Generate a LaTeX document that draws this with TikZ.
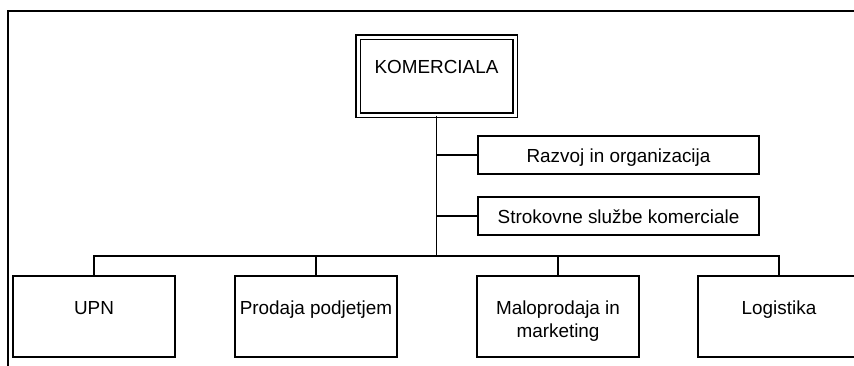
\documentclass[tikz,border=0pt]{standalone}
\usepackage{fontspec}
\setmainfont{Liberation Sans}
\begin{document}
\begin{tikzpicture}[x=1pt,y=-1pt,
  headbox/.style={draw, line width=1.3pt, double, double distance=3pt,
    minimum width=157pt, minimum height=78pt, inner sep=0pt},
  unitbox/.style={draw, line width=1.3pt, minimum width=162pt,
    minimum height=81pt, inner sep=0pt},
  staffbox/.style={draw, line width=1.3pt, minimum width=281pt,
    minimum height=38pt, inner sep=0pt},
  lbl/.style={font=\fontsize{18.9}{23}\selectfont, align=center,
    inner sep=0pt, anchor=base},
  link/.style={line width=1.4pt}]
\useasboundingbox (0,0) rectangle (854,365);
\clip (0,0) rectangle (854,365);

% outer frame (top and left edges only)
\draw[line width=2pt] (8,366) -- (8,11) -- (856,11);

% head of the division
\node[headbox] (head) at (436.5,76) {};
\node[lbl] (headtxt) at (436.5,73) {KOMERCIALA};

% staff units
\node[staffbox] (razvoj) at (618.5,155) {};
\node[lbl] (razvojtxt) at (618.5,162) {Razvoj in organizacija};
\node[staffbox] (strok) at (618.5,216) {};
\node[lbl] (stroktxt) at (618.5,223) {Strokovne službe komerciale};

% line units
\node[unitbox] (upn)  at (94,316.5) {};
\node[lbl] (upntxt) at (94,314.5) {UPN};
\node[unitbox] (prod) at (316,316.5) {};
\node[lbl] (prodtxt) at (316,314.5) {Prodaja podjetjem};
\node[unitbox] (malo) at (558,316.5) {};
\node[lbl] (malotxt) at (558,337) {Maloprodaja in\\marketing};
\node[unitbox] (logi) at (779,316.5) {};
\node[lbl] (logitxt) at (779,314.5) {Logistika};

% spine and bus
\coordinate (bus) at (436.5,256);
\draw[link] (head.south) -- (bus);
\draw[link] (razvoj.west) -- (razvoj.west -| head.south);
\draw[link] (strok.west) -- (strok.west -| head.south);
\draw[link] (upn.north) |- (logi.north |- bus) -- (logi.north);
\draw[link] (prod.north) -- (prod.north |- bus);
\draw[link] (malo.north) -- (malo.north |- bus);
\end{tikzpicture}
\end{document}
